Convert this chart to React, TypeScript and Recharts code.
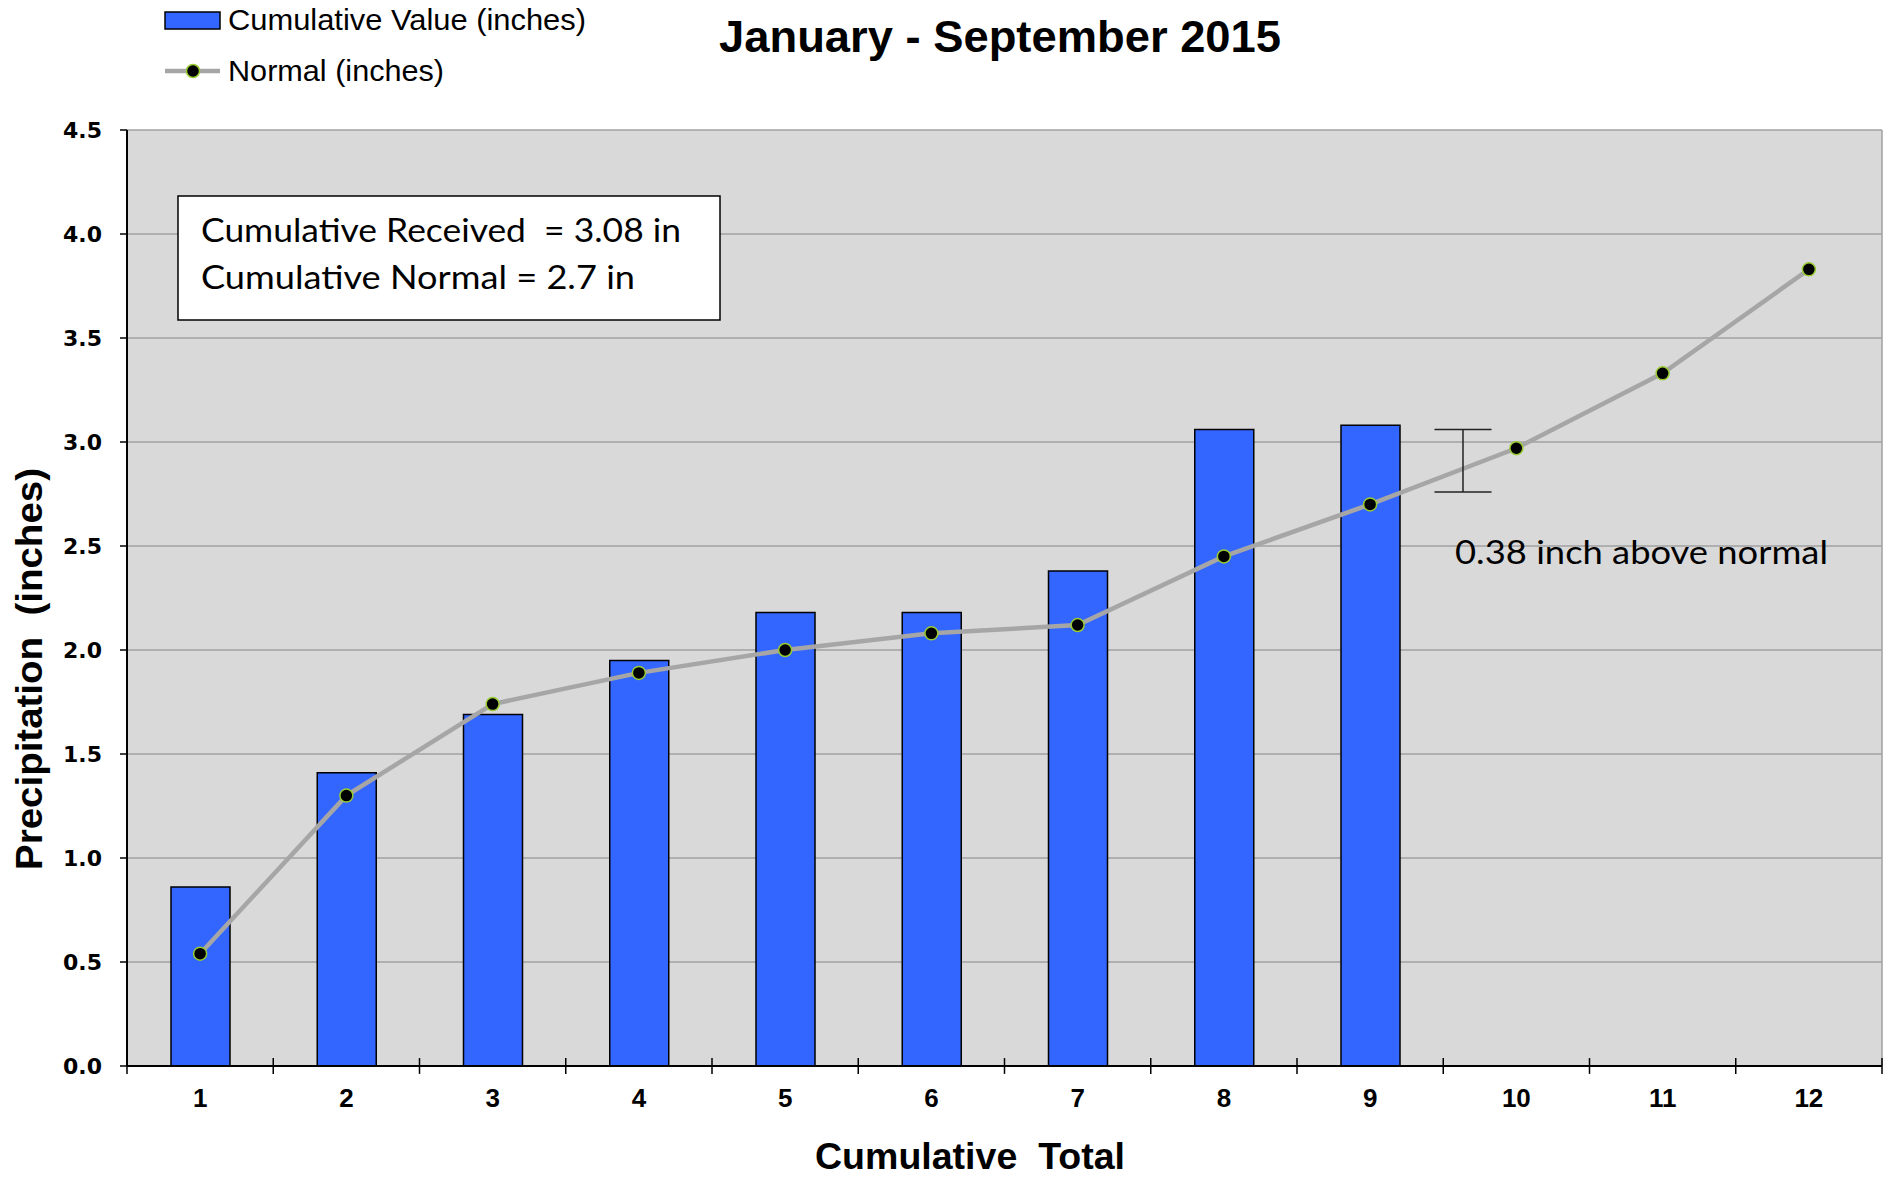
import React from 'react';
import { ComposedChart, Bar, Line, XAxis, YAxis, CartesianGrid, ReferenceLine } from 'recharts';

const months = [1, 2, 3, 4, 5, 6, 7, 8, 9, 10, 11, 12];
const cumulativeValues: (number | null)[] = [0.86, 1.41, 1.69, 1.95, 2.18, 2.18, 2.38, 3.06, 3.08, null, null, null];
const normalValues = [0.54, 1.3, 1.74, 1.89, 2.0, 2.08, 2.12, 2.45, 2.7, 2.97, 3.33, 3.83];
const yTicks = [0, 0.5, 1, 1.5, 2, 2.5, 3, 3.5, 4, 4.5];
const boundaries = [0.5, 1.5, 2.5, 3.5, 4.5, 5.5, 6.5, 7.5, 8.5, 9.5, 10.5, 11.5, 12.5];
const errorX = 9.635;
const errorCapHalf = 0.195;
const errorLow = 2.76;
const errorHigh = 3.06;
const tickHalf = 0.038;

const data = months.map((m, i) => ({ month: m, value: cumulativeValues[i], normal: normalValues[i] }));

const W = 1888;
const H = 1177;

export default function App() {
  return (
    <div style={{ position: 'absolute', left: 0, top: 0, width: W, height: H, background: '#fff' }}>
      <ComposedChart
        width={W}
        height={H}
        data={data}
        margin={{ top: 130, right: 6, bottom: 71, left: 0 }}
      >
        <CartesianGrid vertical={false} stroke="#a0a0a0" strokeWidth={1.5} fill="#d9d9d9" fillOpacity={1} />
        <XAxis
          type="number"
          dataKey="month"
          domain={[0.5, 12.5]}
          ticks={months}
          interval={0}
          height={40}
          tickLine={false}
          tickSize={8}
          tickMargin={15}
          axisLine={{ stroke: '#000', strokeWidth: 2 }}
          tick={{ fill: '#000', fontFamily: '"Liberation Sans", Arial, sans-serif', fontWeight: 700, fontSize: 26 }}
        />
        <YAxis
          type="number"
          domain={[0, 4.5]}
          ticks={yTicks}
          interval={0}
          width={127}
          tickSize={7}
          tickMargin={18}
          tickFormatter={(v: number) => v.toFixed(1)}
          axisLine={{ stroke: '#000', strokeWidth: 2 }}
          tickLine={{ stroke: '#000', strokeWidth: 1.5 }}
          tick={{ fill: '#000', fontFamily: '"DejaVu Sans", sans-serif', fontWeight: 700, fontSize: 22 }}
        />
        <ReferenceLine x={12.5} stroke="#a0a0a0" strokeWidth={1.5} />
        <Bar
          dataKey="value"
          fill="#3366ff"
          stroke="#000"
          strokeWidth={1.5}
          barSize={59}
          isAnimationActive={false}
        />
        <Line
          type="linear"
          dataKey="normal"
          stroke="#a6a6a6"
          strokeWidth={4.5}
          dot={{ r: 6.5, fill: '#000', stroke: '#99cc33', strokeWidth: 1.5 }}
          activeDot={false}
          isAnimationActive={false}
        />
        {boundaries.map((b) => (
          <ReferenceLine
            key={b}
            segment={[{ x: b, y: -tickHalf }, { x: b, y: tickHalf }]}
            stroke="#000"
            strokeWidth={1.5}
            ifOverflow="visible"
          />
        ))}
        <ReferenceLine
          segment={[{ x: errorX, y: errorLow }, { x: errorX, y: errorHigh }]}
          stroke="#222"
          strokeWidth={1.5}
          ifOverflow="visible"
        />
        <ReferenceLine
          segment={[{ x: errorX - errorCapHalf, y: errorHigh }, { x: errorX + errorCapHalf, y: errorHigh }]}
          stroke="#222"
          strokeWidth={1.5}
          ifOverflow="visible"
        />
        <ReferenceLine
          segment={[{ x: errorX - errorCapHalf, y: errorLow }, { x: errorX + errorCapHalf, y: errorLow }]}
          stroke="#222"
          strokeWidth={1.5}
          ifOverflow="visible"
        />
      </ComposedChart>
      <svg
        width={W}
        height={H}
        style={{ position: 'absolute', left: 0, top: 0, pointerEvents: 'none' }}
      >
        {/* Title */}
        <text
          x={1000}
          y={52}
          textAnchor="middle"
          fontFamily='"Liberation Sans", Arial, sans-serif'
          fontWeight={700}
          fontSize={44}
          fill="#000"
          textLength={562}
          lengthAdjust="spacingAndGlyphs"
        >
          January - September 2015
        </text>
        {/* Legend */}
        <rect x={165} y={12} width={55} height={17} fill="#3366ff" stroke="#000" strokeWidth={1.5} />
        <text x={228} y={30} fontFamily='"Liberation Sans", Arial, sans-serif' fontSize={30} fill="#000" textLength={358} lengthAdjust="spacingAndGlyphs">
          Cumulative Value (inches)
        </text>
        <line x1={165} x2={220} y1={71} y2={71} stroke="#a6a6a6" strokeWidth={4.5} />
        <circle cx={193} cy={71} r={6.5} fill="#000" stroke="#99cc33" strokeWidth={1.5} />
        <text x={228} y={81} fontFamily='"Liberation Sans", Arial, sans-serif' fontSize={30} fill="#000" textLength={216} lengthAdjust="spacingAndGlyphs">
          Normal (inches)
        </text>
        {/* Annotation box */}
        <rect x={178} y={196} width={542} height={124} fill="#fff" stroke="#000" strokeWidth={1.5} />
        <text x={201} y={242} fontFamily='Lato, "Open Sans", sans-serif' fontSize={33} fill="#000" textLength={480} lengthAdjust="spacingAndGlyphs" style={{ whiteSpace: 'pre' }}>
          {'Cumulative Received  = 3.08 in'}
        </text>
        <text x={201} y={289} fontFamily='Lato, "Open Sans", sans-serif' fontSize={33} fill="#000" textLength={434} lengthAdjust="spacingAndGlyphs">
          Cumulative Normal = 2.7 in
        </text>
        <text x={1455} y={564} fontFamily='Lato, "Open Sans", sans-serif' fontSize={33} fill="#000" textLength={373} lengthAdjust="spacingAndGlyphs">
          0.38 inch above normal
        </text>
        {/* Axis titles */}
        <text
          transform="translate(42, 669) rotate(-90)"
          textAnchor="middle"
          fontFamily='"Liberation Sans", Arial, sans-serif'
          fontWeight={700}
          fontSize={37}
          fill="#000"
          textLength={402}
          lengthAdjust="spacingAndGlyphs"
          style={{ whiteSpace: 'pre' }}
        >
          {'Precipitation  (inches)'}
        </text>
        <text
          x={970}
          y={1169}
          textAnchor="middle"
          fontFamily='"Liberation Sans", Arial, sans-serif'
          fontWeight={700}
          fontSize={36}
          fill="#000"
          textLength={310}
          lengthAdjust="spacingAndGlyphs"
          style={{ whiteSpace: 'pre' }}
        >
          {'Cumulative  Total'}
        </text>
      </svg>
    </div>
  );
}
